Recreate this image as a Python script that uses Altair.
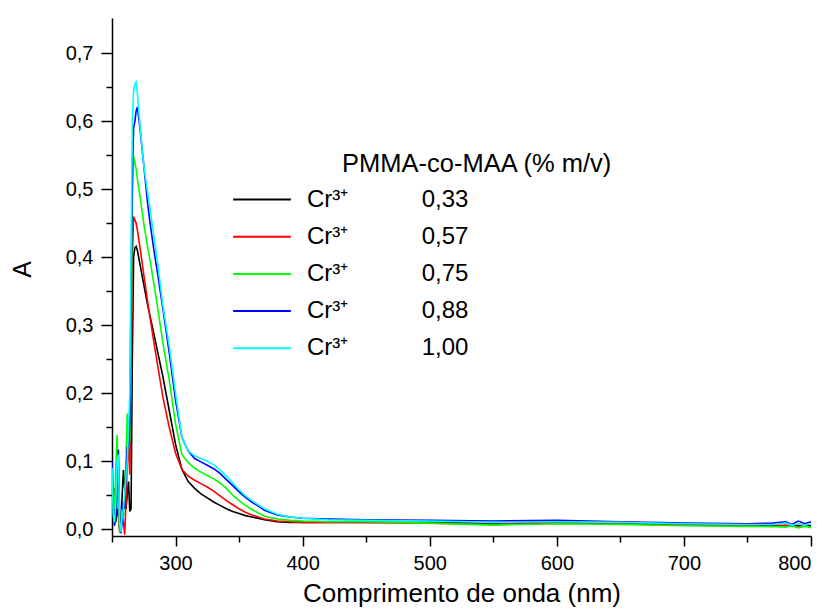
import altair as alt
import pandas as pd

# wavelength grid (nm)
wavelength = [250, 251, 252, 253, 254, 255, 256, 257, 258, 259, 260, 261, 262, 263, 264, 265, 266, 267, 268,
              269, 270, 272, 275, 278, 280, 283, 286, 290, 295, 300, 305, 310, 315, 320, 325, 330, 335, 340,
              345, 350, 355, 360, 370, 380, 390, 400, 420, 450, 500, 550, 600, 650, 700, 750, 770, 780, 785,
              790, 795, 800]

a_033 = [0.06, 0.04, 0.02, 0.01, 0.03, 0.02, 0.00, 0.01, 0.05, 0.087, 0.06, 0.03, 0.05, 0.07, 0.026, 0.03, 0.25, 0.40, 0.414,
         0.416, 0.41, 0.39, 0.36, 0.33, 0.313, 0.287, 0.26, 0.225, 0.175, 0.125, 0.088, 0.07, 0.06, 0.052, 0.046, 0.04, 0.035, 0.03,
         0.026, 0.023, 0.02, 0.018, 0.014, 0.011, 0.010, 0.010, 0.010, 0.010, 0.010, 0.009, 0.011, 0.009, 0.007, 0.006, 0.006, 0.005, 0.006,
         0.005, 0.006, 0.005]
a_057 = [0.07, 0.05, 0.06, 0.04, 0.10, 0.03, -0.005, 0.00, 0.02, 0.01, -0.008, 0.04, 0.10, 0.12, 0.08, 0.20, 0.40, 0.46, 0.455,
         0.45, 0.44, 0.415, 0.375, 0.335, 0.31, 0.275, 0.24, 0.195, 0.15, 0.112, 0.088, 0.078, 0.072, 0.067, 0.062, 0.056, 0.049, 0.042,
         0.036, 0.03, 0.025, 0.021, 0.015, 0.012, 0.011, 0.010, 0.010, 0.010, 0.009, 0.007, 0.009, 0.008, 0.006, 0.005, 0.004, 0.006, 0.004,
         0.004, 0.006, 0.002]
a_075 = [0.09, 0.05, 0.03, 0.09, 0.139, 0.06, -0.006, 0.01, 0.03, 0.02, 0.05, 0.10, 0.17, 0.12, 0.13, 0.28, 0.48, 0.548, 0.54,
         0.53, 0.515, 0.49, 0.45, 0.415, 0.395, 0.36, 0.325, 0.275, 0.22, 0.155, 0.11, 0.098, 0.09, 0.084, 0.079, 0.074, 0.068, 0.06,
         0.05, 0.042, 0.035, 0.029, 0.019, 0.015, 0.013, 0.012, 0.011, 0.011, 0.009, 0.006, 0.008, 0.007, 0.005, 0.004, 0.004, 0.003, 0.005,
         0.002, 0.004, 0.003]
a_088 = [0.10, 0.03, 0.005, 0.02, 0.08, 0.117, 0.02, -0.006, 0.01, 0.04, 0.03, 0.08, 0.12, 0.12, 0.16, 0.35, 0.52, 0.59, 0.60,
         0.615, 0.621, 0.59, 0.535, 0.48, 0.45, 0.41, 0.375, 0.325, 0.26, 0.19, 0.135, 0.115, 0.104, 0.099, 0.094, 0.089, 0.082, 0.073,
         0.064, 0.055, 0.047, 0.04, 0.028, 0.021, 0.018, 0.016, 0.015, 0.014, 0.013, 0.012, 0.013, 0.011, 0.009, 0.008, 0.009, 0.011, 0.007,
         0.012, 0.008, 0.011]
a_100 = [0.09, 0.02, 0.01, 0.04, 0.10, 0.11, 0.01, -0.004, 0.02, 0.03, 0.05, 0.08, 0.10, 0.15, 0.20, 0.40, 0.60, 0.645, 0.655,
         0.658, 0.64, 0.595, 0.535, 0.495, 0.47, 0.43, 0.39, 0.33, 0.27, 0.20, 0.135, 0.115, 0.108, 0.104, 0.10, 0.095, 0.087, 0.078,
         0.068, 0.058, 0.049, 0.042, 0.03, 0.022, 0.018, 0.016, 0.014, 0.013, 0.012, 0.010, 0.011, 0.010, 0.008, 0.007, 0.007, 0.009, 0.006,
         0.008, 0.006, 0.008]

series_labels = ["0,33", "0,57", "0,75", "0,88", "1,00"]
series_values = [a_033, a_057, a_075, a_088, a_100]
colors = ["#000000", "#ff0000", "#00ff00", "#0000ff", "#00ffff"]

x_ticks = list(range(250, 801, 50))
y_ticks = [round(i * 0.05, 2) for i in range(15)]

rows = []
for k, (lab, vals) in enumerate(zip(series_labels, series_values)):
    for w, v in zip(wavelength, vals):
        rows.append({"wl": w, "A": v, "conc": lab, "k": k})
df = pd.DataFrame(rows)

NB = "\u00a0"
ZW = "\u200b"
FONT = "Liberation Sans"

x_axis = alt.Axis(
    title="Comprimento de onda (nm)",
    values=x_ticks,
    labelExpr="datum.value % 100 === 0 ? datum.label : ''",
    tickSize={"condition": {"test": "datum.value % 100 === 0", "value": 10}, "value": 6},
    labelPadding=7,
    titleBaseline="alphabetic",
    titleFontSize=26,
    titleY=65,
    grid=False,
)
y_axis = alt.Axis(
    title="A",
    values=y_ticks,
    labelExpr="round(datum.value * 100) % 10 === 0 ? replace(format(datum.value, '.1f'), '.', ',') : ''",
    tickSize={"condition": {"test": "round(datum.value * 100) % 10 === 0", "value": 11}, "value": 6},
    labelPadding=8,
    titleFontSize=25,
    titleX=-90,
    titleY=251,
    titleBaseline="middle",
    grid=False,
)

legend = alt.Legend(
    title=ZW + NB * 13 + "PMMA-co-MAA (% m/v)",
    orient="none",
    legendX=138,
    legendY=134,
    symbolType="M-3,0H3",
    symbolSize=370,
    symbolStrokeWidth=2,
    labelExpr="'Cr\u00b3\u207a" + NB * 11 + "' + datum.label",
    labelFont=FONT,
    labelFontSize=24,
    labelColor="black",
    labelLimit=500,
    labelOffset=33,
    rowPadding=13.2,
    titleFont=FONT,
    titleFontSize=25.5,
    titleFontWeight="normal",
    titleColor="black",
    titlePadding=10,
    titleLimit=600,
)

chart = (
    alt.Chart(df)
    .mark_line(strokeWidth=1.6, clip=True)
    .encode(
        x=alt.X("wl:Q", scale=alt.Scale(domain=[250, 800], nice=False, zero=False), axis=x_axis),
        y=alt.Y("A:Q", scale=alt.Scale(domain=[-0.01, 0.752], nice=False, zero=False), axis=y_axis),
        color=alt.Color("conc:N", scale=alt.Scale(domain=series_labels, range=colors), legend=legend),
        order=alt.Order("wl:Q"),
    )
    .properties(
        width=699,
        height=518,
        autosize=alt.AutoSizeParams(type="none"),
        padding={"left": 104, "top": 10, "right": 13, "bottom": 71},
        background="white",
    )
    .configure_view(strokeOpacity=0)
    .configure_axis(
        domainColor="black",
        domainWidth=1.5,
        tickColor="black",
        tickWidth=1.5,
        labelFont=FONT,
        labelFontSize=20,
        labelColor="black",
        titleFont=FONT,
        titleFontWeight="normal",
        titleColor="black",
    )
)

chart.save("out.html", embed_options={"renderer": "svg", "actions": False})
